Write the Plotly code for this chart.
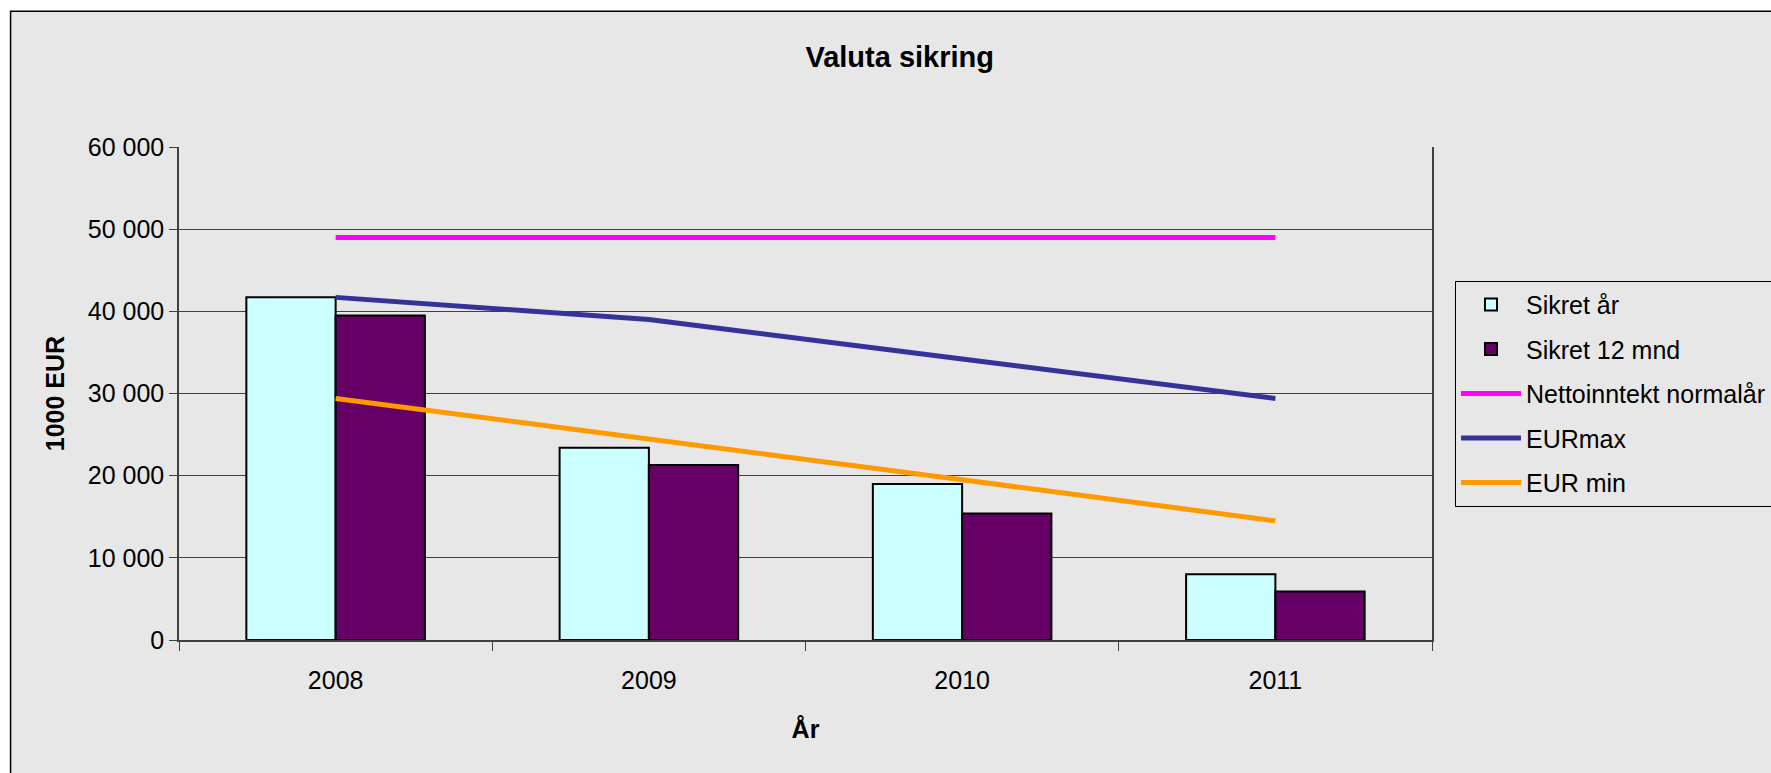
import plotly.graph_objects as go

# ---- data ----
years = ["2008", "2009", "2010", "2011"]
sikret_aar = [41700, 23400, 19000, 8000]
sikret_12mnd = [39500, 21300, 15400, 5900]
nettoinntekt = [49000, 49000, 49000, 49000]
eur_max = [41700, 39000, 34200, 29400]
eur_min = [29400, 24500, 19500, 14500]
y_ticks = [0, 10000, 20000, 30000, 40000, 50000, 60000]

W, H = 1771, 773
L, R, T, B = 178.5, 1432, 146.8, 640.4
FONT = "Liberation Sans, Arial, sans-serif"
BG = "#e7e7e7"


def px_x(px):
    return (px - L) / (R - L)


def px_y(py):
    return (B - py) / (B - T)


fig = go.Figure()
fig.add_trace(go.Bar(x=years, y=sikret_aar, name="Sikret år",
                     marker=dict(color="#CCFFFF", line=dict(color="black", width=2)),
                     legendgroup="a"))
fig.add_trace(go.Bar(x=years, y=sikret_12mnd, name="Sikret 12 mnd",
                     marker=dict(color="#660066", line=dict(color="black", width=2)),
                     legendgroup="b"))
fig.add_trace(go.Scatter(x=years, y=nettoinntekt, name="Nettoinntekt normalår", mode="lines",
                         line=dict(color="#FF00FF", width=5), legendgroup="c"))
fig.add_trace(go.Scatter(x=years, y=eur_max, name="EURmax", mode="lines",
                         line=dict(color="#333399", width=5), legendgroup="d"))
fig.add_trace(go.Scatter(x=years, y=eur_min, name="EUR min", mode="lines",
                         line=dict(color="#FF9900", width=5), legendgroup="e"))

fig.update_layout(
    width=W, height=H,
    margin=dict(l=L, r=W - R, t=T, b=H - B, autoexpand=False),
    paper_bgcolor="white",
    plot_bgcolor="rgba(0,0,0,0)",
    separators=", ",
    font=dict(family=FONT, size=25, color="black"),
    barmode="group", bargap=0.43, bargroupgap=0,
    title=dict(text="Valuta sikring", x=899.7 / W, xref="container", xanchor="center",
               y=1 - 57 / H, yref="container", yanchor="middle",
               font=dict(family=FONT, size=29, color="black", weight="bold")),
    showlegend=True,
    legend=dict(x=px_x(1455), y=px_y(280.7), xanchor="left", yanchor="top",
                xref="paper", yref="paper",
                bgcolor="rgba(0,0,0,0)", bordercolor="black", borderwidth=1,
                font=dict(family=FONT, size=25, color="black"),
                traceorder="grouped", tracegroupgap=9, itemwidth=60),
    shapes=[
        dict(type="rect", xref="paper", yref="paper",
             x0=px_x(10), x1=px_x(W + 50), y0=px_y(H + 50), y1=px_y(11),
             fillcolor=BG, line=dict(color="black", width=1.5), layer="below"),
    ],
)

fig.update_xaxes(
    type="category", tickson="boundaries", ticks="outside", ticklen=9, tickwidth=1,
    tickcolor="#404040", showline=True, linecolor="#404040", linewidth=2,
    showgrid=False, ticklabelstandoff=17,
    tickfont=dict(family=FONT, size=25, color="black"),
    title=dict(text="År", standoff=27,
               font=dict(family=FONT, size=25, color="black", weight="bold")),
)
fig.update_yaxes(
    range=[0, 60000], tickvals=y_ticks, tickformat=",", ticks="outside", ticklen=8,
    tickcolor="#404040", showline=True, linecolor="#404040", linewidth=1.5,
    mirror=True, showgrid=True, gridcolor="#404040", gridwidth=1, zeroline=False,
    ticklabelstandoff=0,
    tickfont=dict(family=FONT, size=25, color="black"),
    title=dict(text="1000 EUR", standoff=16,
               font=dict(family=FONT, size=25, color="black", weight="bold")),
)

fig.write_html("out.html", config={"displayModeBar": False},
               post_script="document.body.style.margin='0';document.body.style.overflow='hidden';")
